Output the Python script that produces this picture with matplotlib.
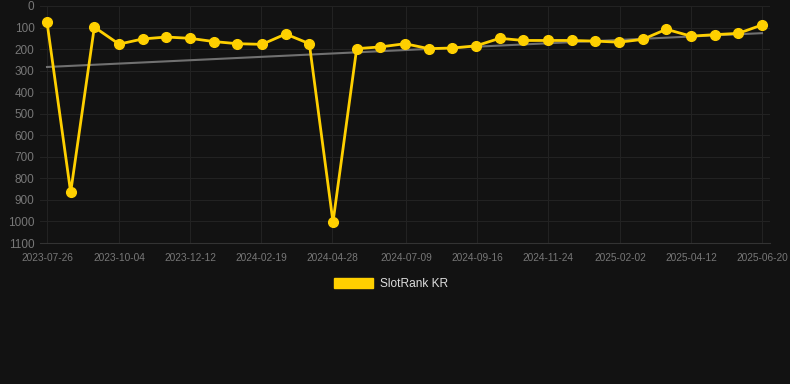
import matplotlib
matplotlib.use('Agg')
import matplotlib.pyplot as plt
import matplotlib.dates as mdates
from matplotlib.patches import Patch
import numpy as np
import pandas as pd

dates = ['2023-07-26', '2023-08-18', '2023-09-10', '2023-10-04', '2023-10-27',
         '2023-11-19', '2023-12-12', '2024-01-04', '2024-01-27', '2024-02-20',
         '2024-03-14', '2024-04-06', '2024-04-29', '2024-05-22', '2024-06-14',
         '2024-07-08', '2024-07-31', '2024-08-23', '2024-09-15', '2024-10-08',
         '2024-10-31', '2024-11-24', '2024-12-17', '2025-01-09', '2025-02-01',
         '2025-02-24', '2025-03-19', '2025-04-12', '2025-05-05', '2025-05-28',
         '2025-06-20']
ranks = [75, 865, 98, 177, 153, 144, 150, 165, 175, 178,
         130, 175, 1003, 198, 190, 175, 198, 195, 185, 150,
         160, 160, 160, 163, 168, 155, 108, 140, 133, 127,
         88]
tick_labels = ['2023-07-26', '2023-10-04', '2023-12-12', '2024-02-19',
               '2024-04-28', '2024-07-09', '2024-09-16', '2024-11-24',
               '2025-02-02', '2025-04-12', '2025-06-20']
y_ticks = [0, 100, 200, 300, 400, 500, 600, 700, 800, 900, 1000, 1100]

plt.rcParams['font.family'] = ['Liberation Sans', 'DejaVu Sans']

bg = '#121212'
gold = '#FFD000'

x = pd.to_datetime(dates)
xn = mdates.date2num(x)

fig = plt.figure(figsize=(7.9, 3.84), dpi=100, facecolor=bg)
ax = fig.add_axes([40 / 790, 1 - 243 / 384, 730 / 790, 237 / 384])
ax.set_facecolor(bg)

# trend line (linear fit of the ranks)
coef = np.polyfit(xn, ranks, 1)
ax.plot(x, np.polyval(coef, xn), color='#707070', lw=1.5, zorder=2)

ax.plot(x, ranks, color=gold, lw=2, marker='o', markersize=7,
        markerfacecolor=gold, markeredgecolor=gold, zorder=3)

ax.set_ylim(1100, 0)
ax.set_yticks(y_ticks)
tick_num = mdates.date2num(pd.to_datetime(tick_labels))
ax.set_xticks(tick_num)
ax.set_xticklabels(tick_labels)
start = mdates.date2num(pd.Timestamp(dates[0]))
end = mdates.date2num(pd.Timestamp(dates[-1]))
ax.set_xlim(start - 7 / 1.0288, end + 8 / 1.0288)

ax.grid(True, color='#222222', lw=0.8)
ax.set_axisbelow(True)
for s in ['top', 'right', 'left']:
    ax.spines[s].set_visible(False)
ax.spines['bottom'].set_color('#333333')
ax.tick_params(axis='y', colors='#777777', labelsize=8.5, length=0, pad=4)
ax.tick_params(axis='x', colors='#777777', labelsize=7.3, length=0, pad=7)

fig.legend(handles=[Patch(facecolor=gold, edgecolor=gold, label='SlotRank KR')],
           loc='center', bbox_to_anchor=(0.495, 1 - 284 / 384), frameon=False,
           labelcolor='#dddddd', fontsize=8.6, handlelength=3.3, handleheight=1.0,
           handletextpad=0.6)

fig.savefig('out.png', dpi=100, facecolor=bg)
